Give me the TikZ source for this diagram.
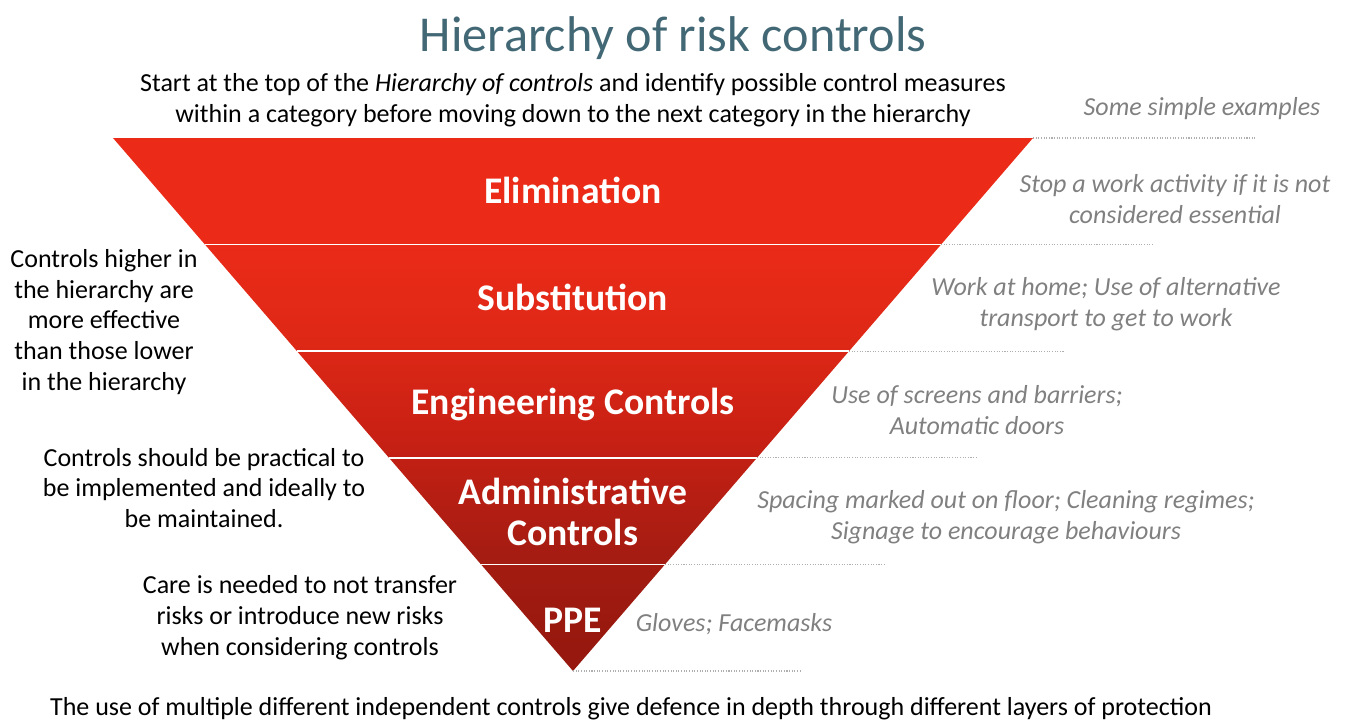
\documentclass[tikz,border=0pt]{standalone}
\usepackage{fontspec}
\setmainfont{Carlito}
\usetikzlibrary{calc}
\usepackage{tkz-euclide}
\definecolor{TitleClr}{RGB}{67,104,117}
\definecolor{HintClr}{RGB}{128,128,128}
\definecolor{DotClr}{RGB}{175,175,175}
\definecolor{RedClrA}{RGB}{235,42,24}
\definecolor{RedClrB}{RGB}{222,40,22}
\definecolor{RedClrC}{RGB}{200,32,20}
\definecolor{RedClrD}{RGB}{165,28,18}
\definecolor{RedClrE}{RGB}{150,24,14}
\pgfdeclareverticalshading{riskfade}{100bp}{color(0bp)=(RedClrE); color(27bp)=(RedClrE);
  color(36bp)=(RedClrD); color(47bp)=(RedClrC); color(56bp)=(RedClrB);
  color(65bp)=(RedClrA); color(100bp)=(RedClrA)}

\begin{document}
\begin{tikzpicture}[x=0.02cm,y=-0.02cm,
  note/.style={font=\fontsize{14.8}{17.6}\selectfont,align=center,inner sep=0pt},
  hint/.style={note,text=HintClr,font=\fontsize{14.8}{17.6}\selectfont\itshape},
  band/.style={text=white,font=\fontsize{21.4}{23}\selectfont\bfseries,align=center,inner sep=0pt},
  leader/.style={DotClr,line width=0.6pt,dash pattern=on 0.6pt off 0.9pt}]
\useasboundingbox (0,0) rectangle (1347,720);

\tkzDefPoints{113/138/L,1033/138/R,573/671/V}

\shade[shading=riskfade] (L) -- (R) -- (V) -- cycle;

\foreach \k in {1,...,4}{
  \draw[white,line width=0.9pt] ($(L)!\k/5!(V)$) -- ($(R)!\k/5!(V)$);
}

\foreach \k/\xe in {0/1257,1/1153,2/1065,3/978,4/885,5/800}{
  \coordinate (r\k) at ($(R)!\k/5!(V)$);
  \coordinate (e\k) at (\xe,0);
  \draw[leader] (r\k) -- (r\k -| e\k);
}

\node[font=\fontsize{28.6}{34}\selectfont,text=TitleClr,inner sep=0pt] (title) at (673,38) {Hierarchy of risk controls};
\node[note] (intro) at (573,100) {Start at the top of the \textit{Hierarchy of controls} and identify possible control measures\\within a category before moving down to the next category in the hierarchy};

\node[band] (elim) at (573,190) {Elimination};
\node[band] (subst) at (573,297) {Substitution};
\node[band] (eng) at (573,404) {Engineering Controls};
\node[band] (admin) at (573,512) {Administrative\\Controls};
\node[band] (ppe) at (573,620) {PPE};

\node[note] (effect) at (104,322) {Controls higher in\\the hierarchy are\\more effective\\than those lower\\in the hierarchy};
\node[note] (practical) at (204,488) {Controls should be practical to\\be implemented and ideally to\\be maintained.};
\node[note] (transfer) at (300,618) {Care is needed to not transfer\\risks or introduce new risks\\when considering controls};

\node[hint] (examples) at (1202,109) {Some simple examples};
\node[hint] (ex1) at (1175,199) {Stop a work activity if it is not\\considered essential};
\node[hint] (ex2) at (1106,304) {Work at home; Use of alternative\\transport to get to work};
\node[hint] (ex3) at (977,410) {Use of screens and barriers;\\Automatic doors};
\node[hint] (ex4) at (1006,517) {Spacing marked out on floor; Cleaning regimes;\\Signage to encourage behaviours};
\node[hint] (ex5) at (734,624) {Gloves; Facemasks};

\node[note] (depth) at (631,709) {The use of multiple different independent controls give defence in depth through different layers of protection};

\end{tikzpicture}
\end{document}
